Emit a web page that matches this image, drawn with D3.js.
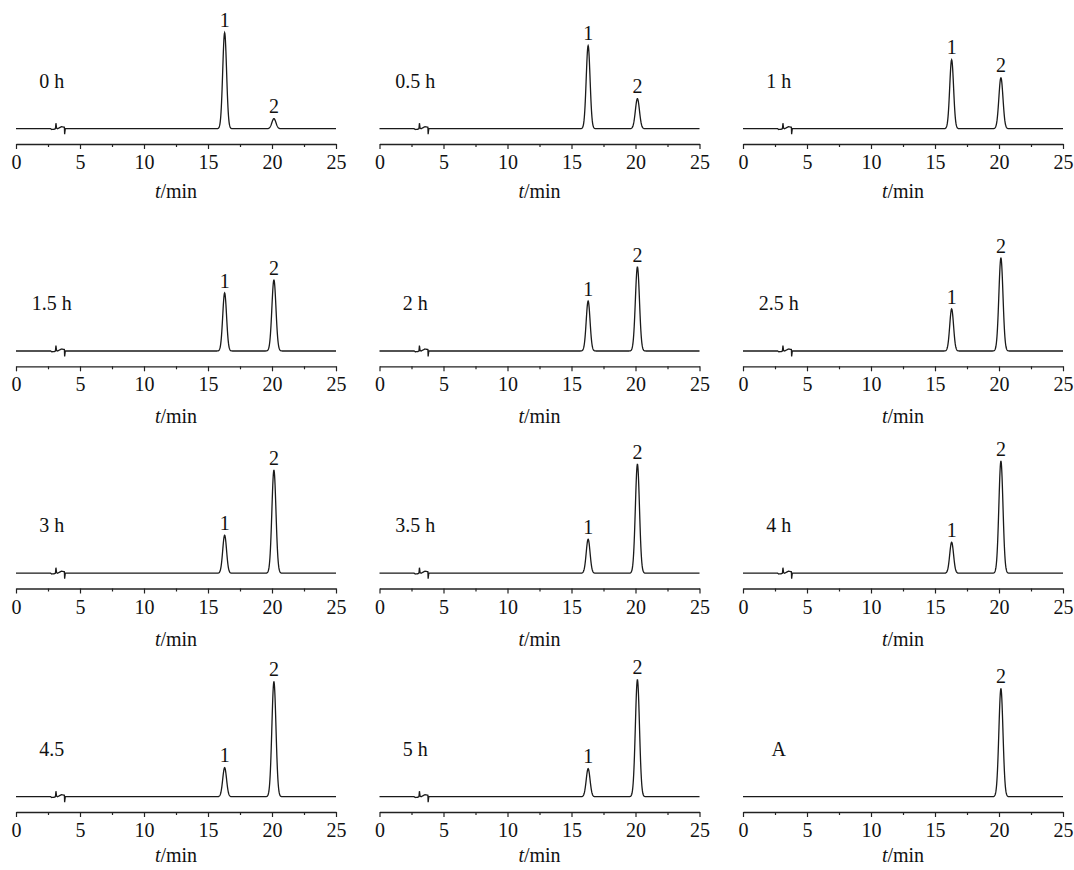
<!DOCTYPE html>
<html>
<head>
<meta charset="utf-8">
<script src="https://cdnjs.cloudflare.com/ajax/libs/d3/7.8.5/d3.min.js"></script>
<style>
  body { margin: 0; background: #fff; }
  svg text { font-family: "Liberation Serif", "Times New Roman", Times, serif; fill: #111; }
</style>
</head>
<body>
<div id="chart"></div>
<script>
// sample labels, read row by row
var samples = ["0 h", "0.5 h", "1 h", "1.5 h", "2 h", "2.5 h", "3 h", "3.5 h", "4 h", "4.5", "5 h", "A"];
// peak heights (arbitrary units) for peak 1 and peak 2
var peak1 = [96, 83, 69, 58, 50, 42, 38, 34, 31, 29, 28, 0];
var peak2 = [10, 30, 51, 71, 84, 93, 103, 109, 112, 115, 117, 108];
// retention times (min)
var rt1 = 16.3, rt2 = 20.15;
var sigma1 = 0.15, sigma2 = 0.16;
// injection disturbance near 3 min (time, signal)
var glitchT = [2.7, 2.8, 3.0, 3.08, 3.12, 3.17, 3.25, 3.55, 3.78, 3.8, 3.85];
var glitchV = [0, -0.8, -0.5, 0, 5.5, 0.5, 0, 2, 1.5, -5.5, 0];
var hasGlitch = [1, 1, 1, 1, 1, 1, 1, 1, 1, 1, 1, 0];
var majorTicks = [0, 5, 10, 15, 20, 25];
var minorTicks = [2.5, 7.5, 12.5, 17.5, 22.5];

var W = 1074, H = 870;
var rowAxisY = [144, 366.3, 588.5, 812];
var titleGap = [54, 57, 57, 50];
var fs = 20;

var svg = d3.select("#chart").append("svg")
    .attr("width", W)
    .attr("height", H);

var glitch = d3.scaleLinear().domain(glitchT).range(glitchV).clamp(true);

function trace(i) {
    var pts = d3.range(0, 25.001, 0.02);
    if (hasGlitch[i]) pts = pts.concat(glitchT);
    pts.sort(function (a, b) { return a - b; });
    return pts.map(function (t) {
        var v = peak1[i] * Math.exp(-0.5 * Math.pow((t - rt1) / sigma1, 2))
              + peak2[i] * Math.exp(-0.5 * Math.pow((t - rt2) / sigma2, 2));
        if (hasGlitch[i] && t >= glitchT[0] && t <= glitchT[glitchT.length - 1]) v += glitch(t);
        return [t, v];
    });
}

samples.forEach(function (name, i) {
    var row = Math.floor(i / 3), col = i % 3;
    var x0 = 16 + col * 363.5;
    var axisY = rowAxisY[row];
    var baseY = axisY - 15.3;

    var x = d3.scaleLinear().domain([0, 25]).range([x0, x0 + 320]);
    var y = d3.scaleLinear().domain([0, 120]).range([baseY, baseY - 120]);

    var g = svg.append("g");

    // axis
    var ax = g.append("g")
        .attr("transform", "translate(0," + axisY + ")")
        .call(d3.axisBottom(x).tickValues(majorTicks).tickSize(5).tickSizeOuter(0).tickPadding(6));
    ax.attr("font-family", null);
    ax.select(".domain").attr("stroke", "#222").attr("stroke-width", 1.3);
    ax.selectAll(".tick line").attr("stroke", "#222").attr("stroke-width", 1.2);
    ax.selectAll(".tick text")
        .attr("font-size", fs)
        .attr("fill", "#111");

    var mn = g.append("g")
        .attr("transform", "translate(0," + axisY + ")")
        .call(d3.axisBottom(x).tickValues(minorTicks).tickSize(3).tickFormat(""));
    mn.select(".domain").remove();
    mn.selectAll(".tick line").attr("stroke", "#222").attr("stroke-width", 1.2);

    // axis title
    var ttl = g.append("text")
        .attr("x", x(12.5))
        .attr("y", axisY + titleGap[row])
        .attr("text-anchor", "middle")
        .attr("font-size", fs);
    ttl.append("tspan").attr("font-style", "italic").text("t");
    ttl.append("tspan").text("/min");

    // chromatogram
    var line = d3.line()
        .x(function (d) { return x(d[0]); })
        .y(function (d) { return y(d[1]); });
    g.append("path")
        .datum(trace(i))
        .attr("d", line)
        .attr("fill", "none")
        .attr("stroke", "#1a1a1a")
        .attr("stroke-width", 1.3);

    // sample label
    g.append("text")
        .attr("x", x(2.8))
        .attr("y", y(41))
        .attr("text-anchor", "middle")
        .attr("font-size", fs)
        .text(name);

    // peak labels
    if (peak1[i] > 0) {
        g.append("text")
            .attr("x", x(rt1))
            .attr("y", y(peak1[i]) - 5.5)
            .attr("text-anchor", "middle")
            .attr("font-size", fs)
            .text("1");
    }
    if (peak2[i] > 0) {
        g.append("text")
            .attr("x", x(rt2))
            .attr("y", y(peak2[i]) - 5.5)
            .attr("text-anchor", "middle")
            .attr("font-size", fs)
            .text("2");
    }
});
</script>
</body>
</html>
